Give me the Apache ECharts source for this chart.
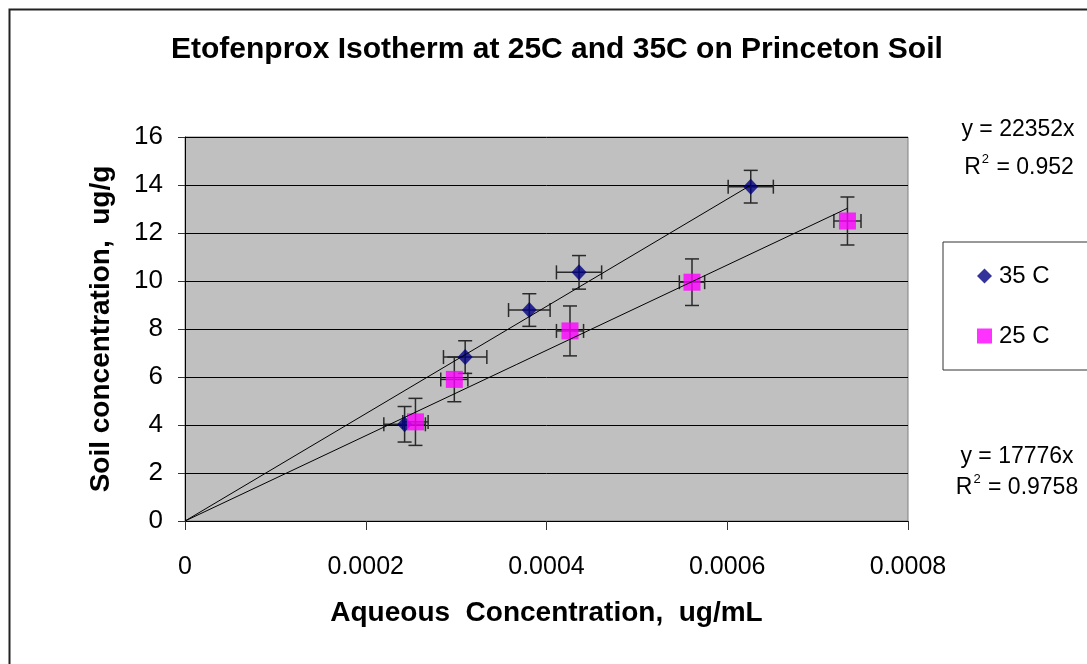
<!DOCTYPE html>
<html>
<head>
<meta charset="utf-8">
<script src="https://cdn.jsdelivr.net/npm/echarts@6/dist/echarts.min.js"></script>
<style>
  html, body { margin: 0; padding: 0; background: #fff; }
  #chart { width: 1087px; height: 664px; }
</style>
</head>
<body>
<div id="chart"></div>
<script>
// data
const x35 = [0.000243, 0.000310, 0.000381, 0.000436, 0.000626];
const y35 = [4.03, 6.83, 8.79, 10.36, 13.93];
const xErr35 = [0.000023, 0.000024, 0.000023, 0.000025, 0.000025];
const yErr35 = [0.74, 0.68, 0.68, 0.70, 0.68];

const x25 = [0.000255, 0.000298, 0.000426, 0.000561, 0.000733];
const y25 = [4.13, 5.90, 7.92, 9.95, 12.50];
const xErr25 = [0.000014, 0.000015, 0.000015, 0.000014, 0.000015];
const yErr25 = [0.98, 0.93, 1.04, 0.97, 1.00];

// trendline slopes (through origin) as printed on the chart
const slope35 = 22352;
const slope25 = 17776;

const xTickLabels = ['0', '0.0002', '0.0004', '0.0006', '0.0008'];
const yTickLabels = ['0', '2', '4', '6', '8', '10', '12', '14', '16'];

const FONT = 'Liberation Sans, Arial, sans-serif';

const chart = echarts.init(document.getElementById('chart'));

const pts = (xs, ys) => xs.map((x, i) => [x, ys[i]]);
const errs = (xs, ys, ex, ey) => xs.map((x, i) => [x, ys[i], ex[i], ey[i]]);
const trend = (xs, k) => {
    const xm = Math.max(...xs);
    return [[0, 0], [xm, k * xm]];
};

// error bars with caps
function renderErr(params, api) {
    const x = api.value(0), y = api.value(1), ex = api.value(2), ey = api.value(3);
    const l = api.coord([x - ex, y]), r = api.coord([x + ex, y]);
    const t = api.coord([x, y + ey]), b = api.coord([x, y - ey]);
    const cap = 7;
    const style = { stroke: '#2a2a2a', lineWidth: 1.5, fill: null };
    const line = (x1, y1, x2, y2) => ({ type: 'line', shape: { x1, y1, x2, y2 }, style });
    return {
        type: 'group',
        children: [
            line(l[0], l[1], r[0], r[1]),
            line(l[0], l[1] - cap, l[0], l[1] + cap),
            line(r[0], r[1] - cap, r[0], r[1] + cap),
            line(t[0], t[1], b[0], b[1]),
            line(t[0] - cap, t[1], t[0] + cap, t[1]),
            line(b[0] - cap, b[1], b[0] + cap, b[1])
        ]
    };
}

// R^2 with a raised 2
const eqRich = {
    a: { fontSize: 23, fontFamily: FONT, color: '#000', lineHeight: 32, verticalAlign: 'middle' },
    s: { fontSize: 13, fontFamily: FONT, color: '#000', verticalAlign: 'middle', padding: [0, 1, 18, 1] }
};

const option = {
    animation: false,
    backgroundColor: '#fff',
    title: {
        text: 'Etofenprox Isotherm at 25C and 35C on Princeton Soil',
        left: 166,
        top: 30,
        textStyle: { fontFamily: FONT, fontSize: 30, fontWeight: 'bold', color: '#000' }
    },
    grid: {
        left: 185, right: 179, top: 137, bottom: 143,
        show: true,
        backgroundColor: '#c0c0c0',
        borderColor: '#808080',
        borderWidth: 1
    },
    legend: {
        orient: 'vertical',
        left: 943,
        top: 242,
        padding: [22, 60, 22, 34],
        itemGap: 36,
        itemWidth: 15,
        itemHeight: 15,
        backgroundColor: '#fff',
        borderColor: '#333',
        borderWidth: 1,
        textStyle: { fontFamily: FONT, fontSize: 24, color: '#000', padding: [0, 0, 0, 2] },
        data: [
            { name: '35 C', icon: 'diamond' },
            { name: '25 C', icon: 'rect' }
        ]
    },
    xAxis: {
        type: 'value',
        min: 0, max: 0.0008, interval: 0.0002,
        name: 'Aqueous  Concentration,  ug/mL',
        nameLocation: 'middle',
        nameGap: 78,
        nameTextStyle: { fontFamily: FONT, fontSize: 28, fontWeight: 'bold', color: '#000' },
        axisLine: { show: true, lineStyle: { color: '#000', width: 1 } },
        axisTick: { show: true, inside: false, length: 9, lineStyle: { color: '#333' } },
        axisLabel: {
            margin: 34, fontFamily: FONT, fontSize: 25, color: '#000',
            formatter: (v) => xTickLabels[Math.round(v / 0.0002)]
        },
        splitLine: { show: false }
    },
    yAxis: {
        type: 'value',
        min: 0, max: 16, interval: 2,
        name: 'Soil concentration,  ug/g',
        nameLocation: 'middle',
        nameGap: 70,
        nameTextStyle: { fontFamily: FONT, fontSize: 28, fontWeight: 'bold', color: '#000' },
        axisLine: { show: true, lineStyle: { color: '#000', width: 1 } },
        axisTick: { show: true, inside: false, length: 7, lineStyle: { color: '#333' } },
        axisLabel: {
            margin: 22, fontFamily: FONT, fontSize: 26, color: '#000',
            formatter: (v) => yTickLabels[Math.round(v / 2)]
        },
        splitLine: { show: true, lineStyle: { color: '#000', width: 1 } }
    },
    graphic: [
        {
            type: 'rect', left: 7, top: 7, z: -10, silent: true,
            shape: { width: 1200, height: 1000 },
            style: { fill: null, stroke: '#222', lineWidth: 2 }
        },
        {
            type: 'text', x: 1018, y: 130, silent: true,
            style: { text: 'y = 22352x', fontFamily: FONT, fontSize: 23, fill: '#000', align: 'center', verticalAlign: 'middle' }
        },
        {
            type: 'text', x: 1019, y: 168, silent: true,
            style: { text: '{a|R}{s|2}{a| = 0.952}', rich: eqRich, align: 'center', verticalAlign: 'middle' }
        },
        {
            type: 'text', x: 1017, y: 457, silent: true,
            style: { text: 'y = 17776x', fontFamily: FONT, fontSize: 23, fill: '#000', align: 'center', verticalAlign: 'middle' }
        },
        {
            type: 'text', x: 1017, y: 488, silent: true,
            style: { text: '{a|R}{s|2}{a| = 0.9758}', rich: eqRich, align: 'center', verticalAlign: 'middle' }
        }
    ],
    series: [
        {
            type: 'custom', name: 'err35', renderItem: renderErr, z: 2,
            data: errs(x35, y35, xErr35, yErr35), silent: true
        },
        {
            type: 'custom', name: 'err25', renderItem: renderErr, z: 2,
            data: errs(x25, y25, xErr25, yErr25), silent: true
        },
        {
            type: 'scatter', name: '35 C', symbol: 'diamond', symbolSize: [15, 16], z: 3,
            itemStyle: { color: '#000080' },
            data: pts(x35, y35)
        },
        {
            type: 'scatter', name: '25 C', symbol: 'rect', symbolSize: 17, z: 3,
            itemStyle: { color: '#ff00ff' },
            data: pts(x25, y25)
        },
        {
            type: 'line', name: 'trend35', symbol: 'none', z: 4, silent: true,
            lineStyle: { color: '#000', width: 1 },
            data: trend(x35, slope35)
        },
        {
            type: 'line', name: 'trend25', symbol: 'none', z: 4, silent: true,
            lineStyle: { color: '#000', width: 1 },
            data: trend(x25, slope25)
        }
    ]
};

chart.setOption(option);
</script>
</body>
</html>
